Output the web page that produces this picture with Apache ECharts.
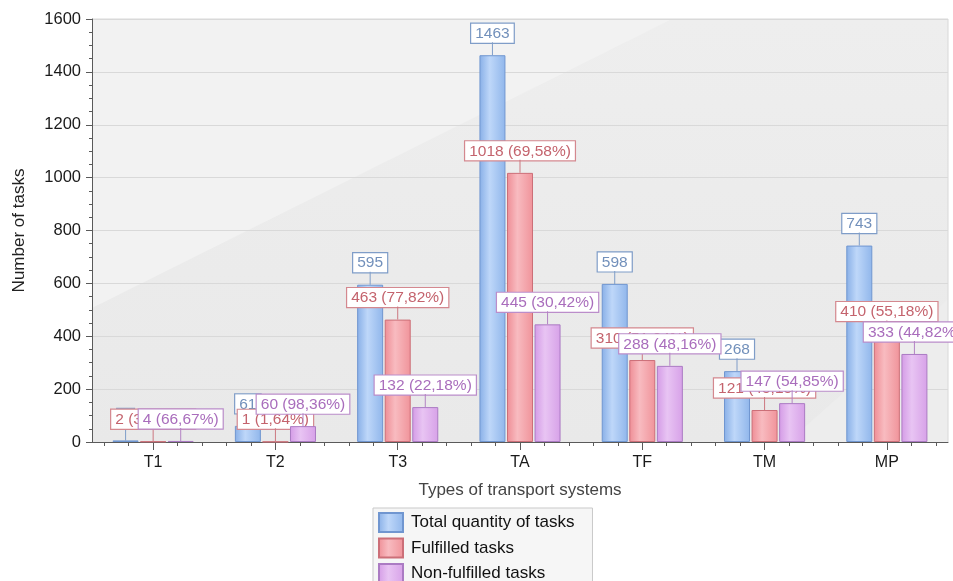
<!DOCTYPE html>
<html>
<head>
<meta charset="utf-8">
<script src="https://cdn.jsdelivr.net/npm/echarts@6/dist/echarts.min.js"></script>
<style>
html,body{margin:0;padding:0;background:#fff;}
#chart{width:953px;height:581px;}
</style>
</head>
<body>
<div id="chart"></div>
<script>
// ---- data ----
const categories = ['T1', 'T2', 'T3', 'TA', 'TF', 'TM', 'MP'];
const totalTasks = [6, 61, 595, 1463, 598, 268, 743];
const fulfilledTasks = [2, 1, 463, 1018, 310, 121, 410];
const fulfilledPct = [33.33, 1.64, 77.82, 69.58, 51.84, 45.15, 55.18];
const nonFulfilledTasks = [4, 60, 132, 445, 288, 147, 333];
const nonFulfilledPct = [66.67, 98.36, 22.18, 30.42, 48.16, 54.85, 44.82];
const seriesNames = ['Total quantity of tasks', 'Fulfilled tasks', 'Non-fulfilled tasks'];
const yMin = 0, yMax = 1600, yStep = 200;
const minorTicksPerCategory = 5;

// ---- layout ----
const G = {left: 92, top: 19, right: 5, bottom: 139};
const W = 953, H = 581;
const gx0 = G.left, gy0 = G.top, gx1 = W - G.right, gy1 = H - G.bottom;
const FONT = '"Liberation Sans", Arial, sans-serif';

// slots for minor x ticks (tick structure only, no data)
const minorSlots = [];
for (let i = 0; i < categories.length * minorTicksPerCategory; i++) minorSlots.push('');

function fmtPct(p) { return p.toFixed(2).replace('.', ',') + '%'; }

function barColor(c0, c1, c2) {
  return new echarts.graphic.LinearGradient(0, 0, 1, 0, [
    {offset: 0, color: c0}, {offset: 0.4, color: c1}, {offset: 1, color: c2}
  ]);
}

function makeLabel(textColor, borderColor, stemColor, fmt) {
  return {
    show: true,
    position: 'top',
    distance: 0,
    formatter: fmt,
    rich: {
      box: {
        fontFamily: FONT, fontSize: 15.5, color: textColor,
        backgroundColor: '#ffffff', borderColor: borderColor, borderWidth: 1.2,
        padding: [2, 4, 1, 4], lineHeight: 18
      },
      stem: {
        width: 1, height: 13, fontSize: 1, lineHeight: 13,
        backgroundColor: stemColor
      }
    }
  };
}

const styles = [
  {bar: barColor('#88afe7', '#bed7f9', '#90b6eb'), border: '#7096d0',
   text: '#7290bb', lbBorder: '#7f9dc8', stem: '#7f9dc8'},
  {bar: barColor('#ee8d95', '#f8bbc0', '#f0939a'), border: '#cc6f78',
   text: '#c4636d', lbBorder: '#d4888f', stem: '#cc7880'},
  {bar: barColor('#d49be6', '#e8c4f3', '#d7a1e8'), border: '#ab7bc3',
   text: '#a96dbc', lbBorder: '#bb8dca', stem: '#b383c4'}
];

const totalFmt = p => '{box|' + totalTasks[p.dataIndex] + '}\n{stem| }';
const fulFmt = p => '{box|' + fulfilledTasks[p.dataIndex] + ' (' + fmtPct(fulfilledPct[p.dataIndex]) + ')}\n{stem| }';
const nonFmt = p => '{box|' + nonFulfilledTasks[p.dataIndex] + ' (' + fmtPct(nonFulfilledPct[p.dataIndex]) + ')}\n{stem| }';
const fmts = [totalFmt, fulFmt, nonFmt];
const dataSets = [totalTasks, fulfilledTasks, nonFulfilledTasks];

const series = dataSets.map((d, i) => ({
  name: seriesNames[i],
  type: 'bar',
  data: d,
  barWidth: 26,
  barGap: '6%',
  xAxisIndex: 0,
  itemStyle: {color: styles[i].bar, borderColor: styles[i].border, borderWidth: 1},
  label: makeLabel(styles[i].text, styles[i].lbBorder, styles[i].stem, fmts[i]),
  labelLayout: {hideOverlap: false},
  emphasis: {disabled: true},
  z: 2 + i
}));

const chart = echarts.init(document.getElementById('chart'), null, {renderer: 'canvas'});
chart.setOption({
  animation: false,
  backgroundColor: '#ffffff',
  textStyle: {fontFamily: FONT},
  grid: {left: G.left, top: G.top, right: G.right, bottom: G.bottom, containLabel: false},
  graphic: [
    {type: 'polygon', silent: true, z: -20,
     shape: {points: [[gx0, gy0], [gx1, gy0], [gx1, gy1], [gx0, gy1]]},
     style: {fill: new echarts.graphic.LinearGradient(0, 0, 0, 1, [
       {offset: 0, color: '#eeeeee'}, {offset: 1, color: '#e9e9e9'}])}},
    {type: 'polygon', silent: true, z: -19,
     shape: {points: [[gx0, gy0], [gx0 + 580, gy0], [gx0, gy0 + 289]]},
     style: {fill: '#f2f2f2'}},
    {type: 'polygon', silent: true, z: -19,
     shape: {points: [[gx1, gy0 + 280], [gx1, gy1], [gx1 - 160, gy1]]},
     style: {fill: '#ededed'}},
    {type: 'polyline', silent: true, z: -18,
     shape: {points: [[gx0, gy0], [gx1, gy0], [gx1, gy1]]},
     style: {stroke: '#d8d8d8', lineWidth: 1, fill: null}}
  ],
  legend: {
    orient: 'vertical',
    left: 373, top: 508, height: 120,
    icon: 'rect',
    itemWidth: 24, itemHeight: 19, itemGap: 4.5,
    padding: [4, 18, 10, 5],
    backgroundColor: '#f6f6f6',
    borderColor: '#c9c9c9', borderWidth: 1,
    textStyle: {fontFamily: FONT, fontSize: 17, color: '#111', padding: [0, 0, 0, 3]},
    data: seriesNames,
    selectedMode: false
  },
  xAxis: [
    {
      type: 'category',
      data: categories,
      position: 'bottom',
      axisLine: {show: true, lineStyle: {color: '#5a5a5a', width: 1}},
      axisTick: {show: true, alignWithLabel: true, length: 8, lineStyle: {color: '#5a5a5a'}},
      axisLabel: {fontFamily: FONT, fontSize: 16, color: '#1a1a1a', margin: 13},
      splitLine: {show: false},
      splitArea: {show: false},
      name: 'Types of transport systems',
      nameLocation: 'middle',
      nameGap: 40,
      nameTextStyle: {fontFamily: FONT, fontSize: 17, color: '#444'}
    },
    {
      type: 'category',
      data: minorSlots,
      position: 'bottom',
      axisLine: {show: false},
      axisTick: {show: true, alignWithLabel: true, interval: 0, length: 4, lineStyle: {color: '#5a5a5a'}},
      axisLabel: {show: false},
      splitLine: {show: false},
      splitArea: {show: false}
    }
  ],
  yAxis: {
    type: 'value',
    min: yMin, max: yMax, interval: yStep,
    axisLine: {show: true, lineStyle: {color: '#5a5a5a', width: 1}},
    axisTick: {show: true, length: 6, lineStyle: {color: '#5a5a5a'}},
    minorTick: {show: true, splitNumber: 4, length: 3, lineStyle: {color: '#5a5a5a'}},
    axisLabel: {fontFamily: FONT, fontSize: 16.5, color: '#1a1a1a', margin: 11,
                formatter: v => String(v)},
    splitLine: {show: true, lineStyle: {color: '#d9d9d9', width: 1}},
    splitArea: {show: false},
    name: 'Number of tasks',
    nameLocation: 'middle',
    nameGap: 64,
    nameTextStyle: {fontFamily: FONT, fontSize: 17, color: '#222'}
  },
  series: series
});
</script>
</body>
</html>
